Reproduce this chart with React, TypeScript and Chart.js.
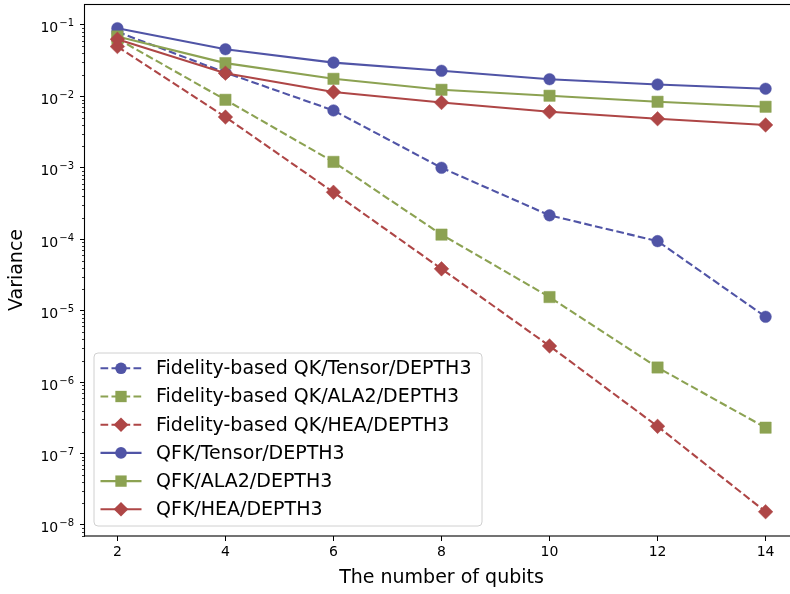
import React, { useEffect, useRef } from 'react';
import { Chart, registerables } from 'chart.js';

Chart.register(...registerables);

const qubits = [2, 4, 6, 8, 10, 12, 14];
const xTicks = [2, 4, 6, 8, 10, 12, 14];
const yDecades = [-8, -7, -6, -5, -4, -3, -2, -1];

const fidTensor = [0.08, 0.0215, 0.00635, 0.001, 0.000216, 0.000094, 0.0000082];
const fidAla2 = [0.064, 0.00895, 0.00121, 0.000116, 0.0000155, 0.0000016, 0.00000023];
const fidHea = [0.0498, 0.00513, 0.000454, 0.0000385, 0.0000032, 0.00000024, 0.0000000153];
const qfkTensor = [0.09, 0.0457, 0.0297, 0.0228, 0.0174, 0.01466, 0.01277];
const qfkAla2 = [0.069, 0.0292, 0.0176, 0.01236, 0.0102, 0.0084, 0.00715];
const qfkHea = [0.063, 0.0211, 0.0115, 0.0082, 0.00608, 0.00486, 0.00398];

const labels = [
  'Fidelity-based QK/Tensor/DEPTH3',
  'Fidelity-based QK/ALA2/DEPTH3',
  'Fidelity-based QK/HEA/DEPTH3',
  'QFK/Tensor/DEPTH3',
  'QFK/ALA2/DEPTH3',
  'QFK/HEA/DEPTH3',
];

const BLUE = '#5054a6';
const GREEN = '#8ca252';
const RED = '#ae4646';
const FONT = "'DejaVu Sans', sans-serif";

function drawMarker(ctx: CanvasRenderingContext2D, style: string, x: number, y: number, r: number) {
  ctx.beginPath();
  if (style === 'circle') {
    ctx.arc(x, y, r, 0, Math.PI * 2);
  } else if (style === 'rect') {
    const s = r * Math.SQRT1_2;
    ctx.rect(x - s, y - s, 2 * s, 2 * s);
  } else {
    ctx.moveTo(x - r, y);
    ctx.lineTo(x, y - r);
    ctx.lineTo(x + r, y);
    ctx.lineTo(x, y + r);
    ctx.closePath();
  }
  ctx.fill();
}

const framePlugin = {
  id: 'frameAndLegend',
  afterDraw(chart: any) {
    const ctx: CanvasRenderingContext2D = chart.ctx;
    const { left, right, top, bottom } = chart.chartArea;
    const yScale = chart.scales.y;
    ctx.save();
    // minor ticks
    ctx.strokeStyle = '#000';
    ctx.lineWidth = 0.8;
    for (let d = -9; d <= 0; d++) {
      for (let m = 2; m <= 9; m++) {
        const v = m * Math.pow(10, d);
        if (v < yScale.min || v > yScale.max) continue;
        const py = Math.round(yScale.getPixelForValue(v)) + 0.5;
        ctx.beginPath();
        ctx.moveTo(left - 3, py);
        ctx.lineTo(left, py);
        ctx.stroke();
      }
    }
    // y tick labels, 10 with superscript exponent
    ctx.fillStyle = '#000';
    ctx.textAlign = 'left';
    ctx.textBaseline = 'alphabetic';
    yDecades.forEach((d) => {
      const py = yScale.getPixelForValue(Math.pow(10, d));
      const exp = (d < 0 ? '\u2212' : '') + String(Math.abs(d));
      ctx.font = `10px ${FONT}`;
      const we = ctx.measureText(exp).width;
      const xEnd = left - 11;
      const ex = xEnd - we;
      ctx.fillText(exp, ex, py + 1.5);
      ctx.font = `14px ${FONT}`;
      const wb = ctx.measureText('10').width;
      ctx.fillText('10', ex - 1 - wb, py + 7.5);
    });
    // frame
    ctx.strokeStyle = '#000';
    ctx.lineWidth = 1.1;
    ctx.strokeRect(left - 0.5, top + 0.5, right - left + 1, bottom - top - 0.5);

    // legend
    const bx = 94, by = 353, bw = 388, bh = 173;
    ctx.beginPath();
    const rr = 4;
    ctx.moveTo(bx + rr, by);
    ctx.lineTo(bx + bw - rr, by);
    ctx.quadraticCurveTo(bx + bw, by, bx + bw, by + rr);
    ctx.lineTo(bx + bw, by + bh - rr);
    ctx.quadraticCurveTo(bx + bw, by + bh, bx + bw - rr, by + bh);
    ctx.lineTo(bx + rr, by + bh);
    ctx.quadraticCurveTo(bx, by + bh, bx, by + bh - rr);
    ctx.lineTo(bx, by + rr);
    ctx.quadraticCurveTo(bx, by, bx + rr, by);
    ctx.closePath();
    ctx.fillStyle = 'rgba(255,255,255,0.8)';
    ctx.fill();
    ctx.strokeStyle = '#d0d0d0';
    ctx.lineWidth = 1;
    ctx.stroke();

    const datasets = chart.data.datasets;
    datasets.forEach((ds: any, i: number) => {
      const y = 368.3 + i * 28.2;
      ctx.strokeStyle = ds.borderColor;
      ctx.lineWidth = ds.borderWidth;
      ctx.setLineDash(ds.borderDash || []);
      ctx.beginPath();
      ctx.moveTo(100.5, y);
      ctx.lineTo(141.5, y);
      ctx.stroke();
      ctx.setLineDash([]);
      ctx.fillStyle = ds.pointBackgroundColor;
      drawMarker(ctx, ds.pointStyle, 121, y, ds.pointRadius);
      ctx.fillStyle = '#000';
      ctx.font = `19px ${FONT}`;
      ctx.textAlign = 'left';
      ctx.textBaseline = 'middle';
      ctx.fillText(ds.label, 156, y + 1);
    });
    ctx.restore();
  },
};

export default function App() {
  const ref = useRef<HTMLCanvasElement | null>(null);

  useEffect(() => {
    document.body.style.margin = '0';
    document.body.style.overflow = 'hidden';
    const canvas = ref.current;
    if (!canvas) return;
    const series = [fidTensor, fidAla2, fidHea, qfkTensor, qfkAla2, qfkHea];
    const colors = [BLUE, GREEN, RED, BLUE, GREEN, RED];
    const styles = ['circle', 'rect', 'rectRot', 'circle', 'rect', 'rectRot'];
    const radii = [5.8, 8, 7.3, 5.8, 8, 7.3];
    const datasets = series.map((vals, i) => ({
      label: labels[i],
      data: qubits.map((q, j) => ({ x: q, y: vals[j] })),
      borderColor: colors[i],
      backgroundColor: colors[i],
      pointBackgroundColor: colors[i],
      pointBorderColor: colors[i],
      pointBorderWidth: 0.5,
      pointStyle: styles[i],
      pointRadius: radii[i],
      borderWidth: 2.1,
      borderDash: i < 3 ? [7.7, 3.3] : [],
      tension: 0,
      order: 5 - i,
    }));

    const chart = new Chart(canvas, {
      type: 'line',
      data: { datasets },
      plugins: [framePlugin],
      options: {
        animation: false,
        responsive: false,
        maintainAspectRatio: false,
        events: [],
        layout: { autoPadding: false, padding: { top: 4, right: 2, left: 0, bottom: 0 } },
        plugins: {
          legend: { display: false },
          tooltip: { enabled: false },
          title: { display: false },
        },
        scales: {
          x: {
            type: 'linear',
            min: 1.4,
            max: 14.6,
            afterFit: (s: any) => { s.height = 58; s.paddingLeft = 0; s.paddingRight = 0; },
            afterBuildTicks: (s: any) => { s.ticks = xTicks.map((v) => ({ value: v })); },
            grid: { drawOnChartArea: false, drawTicks: true, tickLength: 5, color: '#000', lineWidth: 1 },
            border: { display: false },
            ticks: {
              color: '#000',
              font: { family: FONT, size: 14 },
              padding: 3,
              maxRotation: 0,
              autoSkip: false,
              callback: (v: any) => String(v),
            },
            title: {
              display: true,
              text: 'The number of qubits',
              color: '#000',
              font: { family: FONT, size: 19 },
              padding: { top: 0, bottom: 4.5 },
            },
          },
          y: {
            type: 'logarithmic',
            min: Math.pow(10, -8.153),
            max: Math.pow(10, -0.707),
            afterFit: (s: any) => { s.width = 85; s.paddingTop = 0; s.paddingBottom = 0; },
            afterBuildTicks: (s: any) => { s.ticks = yDecades.map((d) => ({ value: Math.pow(10, d) })); },
            grid: { drawOnChartArea: false, drawTicks: true, tickLength: 5, color: '#000', lineWidth: 1 },
            border: { display: false },
            ticks: {
              color: '#000',
              font: { family: FONT, size: 14 },
              padding: 6,
              autoSkip: false,
              callback: () => '',
            },
            title: {
              display: true,
              text: 'Variance',
              color: '#000',
              font: { family: FONT, size: 19 },
              padding: { top: 6, bottom: 0 },
            },
          },
        },
      },
    } as any);
    return () => chart.destroy();
  }, []);

  return (
    <div style={{ width: 790, height: 594, overflow: 'hidden', background: '#fff' }}>
      <canvas ref={ref} width={800} height={594} style={{ width: 800, height: 594, display: 'block' }} />
    </div>
  );
}
